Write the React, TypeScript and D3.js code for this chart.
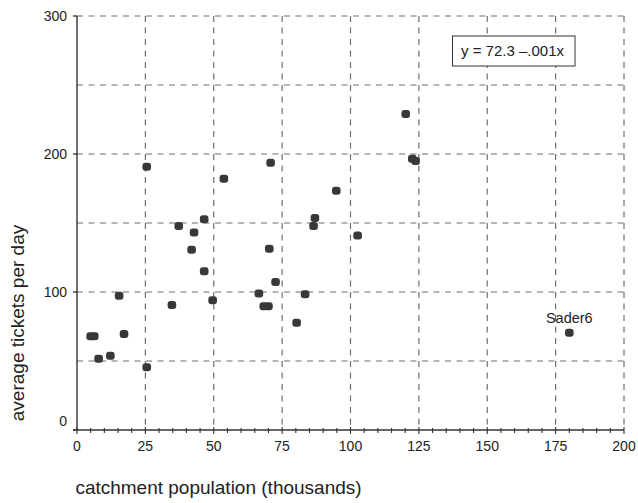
import React from "react";
import * as d3 from "d3";

// catchment population (thousands) vs average tickets per day
const population = [
  5.0, 6.3, 7.9, 12.2, 15.4, 17.2, 25.5, 25.5, 34.7, 37.2, 41.9, 42.8, 46.5,
  46.5, 49.6, 53.7, 66.5, 68.3, 70.0, 70.3, 70.8, 72.6, 80.3, 83.4, 86.5,
  87.0, 94.8, 102.6, 120.2, 122.6, 123.8, 180.0,
];
const tickets = [
  68, 68, 51.6, 53.8, 97.3, 69.5, 190.8, 45.4, 90.5, 147.9, 130.6, 143.2,
  152.8, 115.1, 94.1, 182, 99, 89.6, 89.6, 131.3, 193.6, 107.2, 77.7, 98.3,
  147.9, 153.7, 173.3, 141, 229, 196.5, 195, 70.5,
];
const pointLabels = ["", "", "", "", "", "", "", "", "", "", "", "", "", "", "", "", "", "", "", "", "", "", "", "", "", "", "", "", "", "", "", "Sader6"];

const xTicks = [0, 25, 50, 75, 100, 125, 150, 175, 200];
const xMinorTicks = d3.range(0, 201, 5);
const yTicks = [0, 100, 200, 300];
const yGrid = [50, 100, 150, 200, 250, 300];
const equation = "y = 72.3 \u2013.001x";

const width = 638;
const height = 503;
const marginLeft = 77;
const marginRight = 14;
const marginTop = 16;
const marginBottom = 73;

const font = "'Liberation Sans', Arial, Helvetica, sans-serif";

export default function App() {
  const x = d3
    .scaleLinear()
    .domain([0, 200])
    .range([marginLeft, width - marginRight]);
  const y = d3
    .scaleLinear()
    .domain([0, 300])
    .range([height - marginBottom, marginTop]);

  const grid = "#6f6f6f";
  const dash = "6,5.5";
  const y0 = y(0);

  return (
    <svg
      width={width}
      height={height}
      style={{ position: "absolute", left: 0, top: 0, background: "#fff" }}
      fontFamily={font}
    >
      {/* horizontal grid */}
      {yGrid.map((v) => (
        <line
          key={"h" + v}
          x1={x(0)}
          x2={x(200)}
          y1={y(v)}
          y2={y(v)}
          stroke={grid}
          strokeWidth={1.2}
          strokeDasharray={dash}
        />
      ))}
      {/* vertical grid */}
      {xTicks.slice(1).map((v) => (
        <line
          key={"v" + v}
          x1={x(v)}
          x2={x(v)}
          y1={y(300)}
          y2={y0}
          stroke={grid}
          strokeWidth={1.2}
          strokeDasharray={dash}
        />
      ))}

      {/* y axis */}
      <line x1={x(0)} x2={x(0)} y1={y(300)} y2={y0} stroke="#222" strokeWidth={1.3} />
      {yTicks.map((v) => (
        <g key={"yt" + v}>
          <line x1={x(0) - 4} x2={x(0)} y1={y(v)} y2={y(v)} stroke="#222" strokeWidth={1.2} />
          <text
            x={x(0) - 10}
            y={v === 0 ? y(v) - 8 : y(v) + 1}
            textAnchor="end"
            dominantBaseline="middle"
            fontSize={14}
            fill="#222"
          >
            {v}
          </text>
        </g>
      ))}

      {/* x axis */}
      <line x1={x(0) - 4} x2={x(200)} y1={y0} y2={y0} stroke="#333" strokeWidth={1.3} />
      {xMinorTicks.map((v) => (
        <line
          key={"xm" + v}
          x1={x(v)}
          x2={x(v)}
          y1={y0 - (v % 25 === 0 ? 3 : 2)}
          y2={y0 + (v % 25 === 0 ? 4 : 3)}
          stroke="#333"
          strokeWidth={1.1}
        />
      ))}
      {xTicks.map((v) => (
        <text
          key={"xt" + v}
          x={x(v)}
          y={y0 + 21}
          textAnchor="middle"
          fontSize={14}
          fill="#222"
        >
          {v}
        </text>
      ))}

      {/* points */}
      {population.map((p, i) => (
        <rect
          key={"p" + i}
          x={x(p) - 4.3}
          y={y(tickets[i]) - 4}
          width={8.6}
          height={8}
          rx={3}
          fill="#383838"
        />
      ))}
      {population.map((p, i) =>
        pointLabels[i] ? (
          <text
            key={"l" + i}
            x={x(p)}
            y={y(tickets[i]) - 10}
            textAnchor="middle"
            fontSize={14.5}
            fill="#222"
          >
            {pointLabels[i]}
          </text>
        ) : null,
      )}

      {/* equation box */}
      <rect x={452.5} y={36} width={122.5} height={30} fill="#fff" stroke="#333" strokeWidth={1} />
      <text x={461} y={56} fontSize={15} fill="#222">
        {equation}
      </text>

      {/* axis titles */}
      <text
        transform={`translate(24,${(y(0) + y(300)) / 2 + 100}) rotate(-90)`}
        textAnchor="middle"
        fontSize={19}
        fill="#222"
      >
        average tickets per day
      </text>
      <text x={218.5} y={494} textAnchor="middle" fontSize={19} fill="#222">
        catchment population (thousands)
      </text>
    </svg>
  );
}
